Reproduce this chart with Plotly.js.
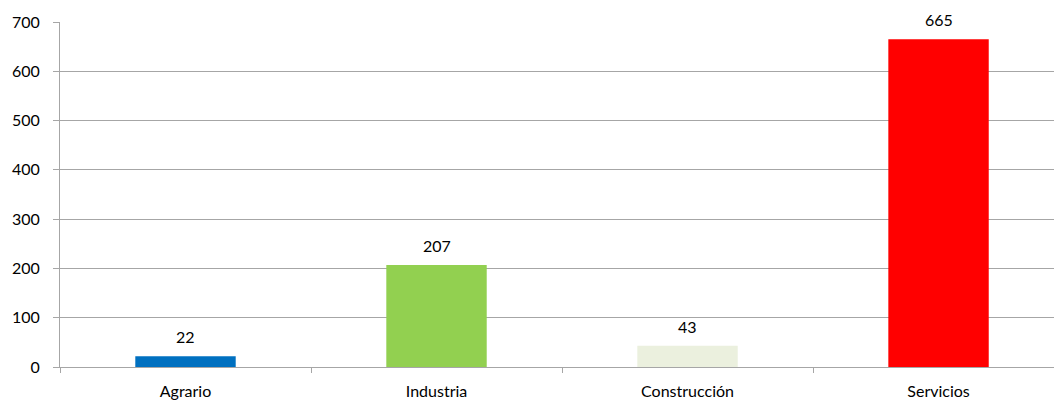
<!DOCTYPE html>
<html>
<head>
<meta charset="utf-8">
<script src="https://cdn.plot.ly/plotly-3.0.1.min.js"></script>
<style>html,body{margin:0;padding:0;background:#fff;}</style>
</head>
<body>
<div id="chart" style="width:1054px;height:401px;"></div>
<script>
var categories = ["Agrario", "Industria", "Construcción", "Servicios"];
var values = [22, 207, 43, 665];
var colors = ["#0070C0", "#92D050", "#EBF0DE", "#FF0000"];
var yTicks = [0, 100, 200, 300, 400, 500, 600, 700];

var fontFam = "Lato, 'Open Sans', sans-serif";

var trace = {
  type: "bar",
  x: categories,
  y: values,
  marker: {color: colors, line: {width: 0}},
  hoverinfo: "none"
};

var annotations = categories.map(function (c, i) {
  return {
    x: c, y: values[i], xref: "x", yref: "y",
    text: String(values[i]), showarrow: false,
    yanchor: "bottom", yshift: 8,
    font: {family: fontFam, size: 16, color: "#000"}
  };
});

var layout = {
  width: 1054, height: 401,
  margin: {l: 60, r: 0, t: 22, b: 34},
  paper_bgcolor: "#fff", plot_bgcolor: "#fff",
  bargap: 0.6,
  showlegend: false,
  font: {family: fontFam, size: 16, color: "#000"},
  xaxis: {
    type: "category",
    range: [-0.5, 3.46],
    tickson: "boundaries",
    ticks: "outside", ticklen: 5, tickcolor: "#A6A6A6", tickwidth: 1,
    ticklabelstandoff: 10,
    showline: true, linecolor: "#A6A6A6", linewidth: 1,
    showgrid: false, zeroline: false,
    tickfont: {family: fontFam, size: 16, color: "#000"}
  },
  yaxis: {
    range: [0, 700],
    tickvals: yTicks,
    ticktext: yTicks.map(String),
    ticks: "outside", ticklen: 6, tickcolor: "#A6A6A6", tickwidth: 1,
    ticklabelstandoff: 10,
    showline: true, linecolor: "#A6A6A6", linewidth: 1,
    showgrid: true, gridcolor: "#A6A6A6", gridwidth: 1,
    zeroline: false,
    tickfont: {family: fontFam, size: 16, color: "#000"}
  },
  annotations: annotations
};

Plotly.newPlot("chart", [trace], layout, {displayModeBar: false, staticPlot: true});
</script>
</body>
</html>
